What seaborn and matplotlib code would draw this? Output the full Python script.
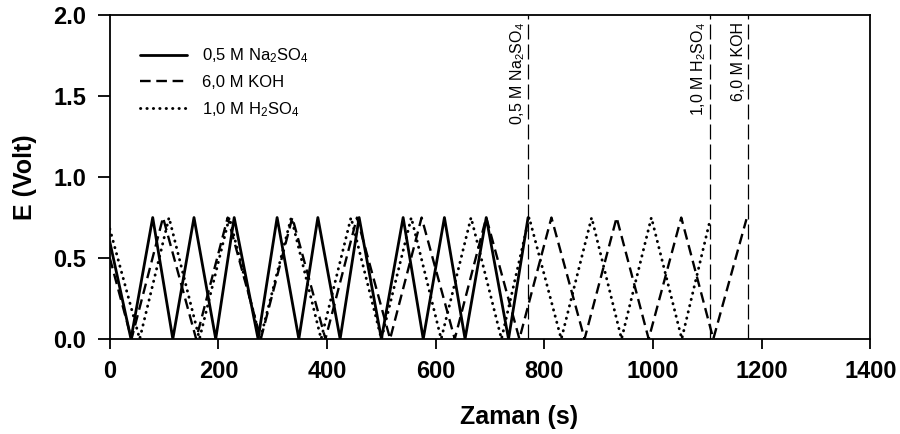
import numpy as np
import pandas as pd
import seaborn as sns
import matplotlib.pyplot as plt

# charge / discharge vertices (time in s, potential in V)
na2so4_t = [0, 39, 79, 116, 155, 195, 229, 273, 308, 348, 383,
            424, 459, 500, 540, 577, 616, 654, 693, 734, 770]
na2so4_e = [0.60, 0.0, 0.75, 0.0, 0.75, 0.0, 0.75, 0.0, 0.75, 0.0, 0.75,
            0.0, 0.75, 0.0, 0.75, 0.0, 0.75, 0.0, 0.75, 0.0, 0.75]

koh_t = [0, 40, 98, 159, 217, 278, 336, 397, 455, 516, 574,
         635, 693, 754, 813, 874, 933, 992, 1052, 1111, 1172]
koh_e = [0.50, 0.0, 0.75, 0.0, 0.75, 0.0, 0.75, 0.0, 0.75, 0.0, 0.75,
         0.0, 0.75, 0.0, 0.75, 0.0, 0.75, 0.0, 0.75, 0.0, 0.74]

h2so4_t = [0, 55, 109, 165, 220, 277, 334, 389, 444, 500, 555,
           610, 665, 721, 772, 831, 887, 942, 997, 1053, 1104]
h2so4_e = [0.68, 0.0, 0.75, 0.0, 0.75, 0.0, 0.75, 0.0, 0.75, 0.0, 0.75,
           0.0, 0.75, 0.0, 0.75, 0.0, 0.75, 0.0, 0.75, 0.0, 0.72]

series_labels = ['0,5 M Na$_2$SO$_4$', '6,0 M KOH', '1,0 M H$_2$SO$_4$']

# end of each measurement, marked with a vertical line
cut_t = [770, 1104, 1174]
cut_labels = ['0,5 M Na$_2$SO$_4$', '1,0 M H$_2$SO$_4$', '6,0 M KOH']

x_ticks = [0, 200, 400, 600, 800, 1000, 1200, 1400]
y_ticks = [0.0, 0.5, 1.0, 1.5, 2.0]

sns.set_style('ticks')
plt.rcParams['font.family'] = ['Liberation Sans', 'DejaVu Sans']
plt.rcParams['mathtext.fontset'] = 'custom'
plt.rcParams['mathtext.rm'] = 'Liberation Sans'
plt.rcParams['mathtext.default'] = 'regular'
for key in ['text.color', 'axes.labelcolor', 'xtick.color', 'ytick.color',
            'axes.edgecolor']:
    plt.rcParams[key] = 'black'

fig = plt.figure(figsize=(9, 4.34), dpi=100)
ax = fig.add_axes([0.122, 0.219, 0.845, 0.746])

sns.lineplot(x=na2so4_t, y=na2so4_e, ax=ax, color='black', lw=2.0,
             estimator=None, sort=False, label=series_labels[0])
sns.lineplot(x=koh_t, y=koh_e, ax=ax, color='black', lw=1.7,
             linestyle=(0, (4.5, 2.4)), estimator=None, sort=False,
             label=series_labels[1])
sns.lineplot(x=h2so4_t, y=h2so4_e, ax=ax, color='black', lw=2.1,
             linestyle=(0, (0.1, 2.1)), dash_capstyle='round',
             estimator=None, sort=False, label=series_labels[2])

for t, lab in zip(cut_t, cut_labels):
    ax.axvline(t, color='black', lw=0.9, linestyle=(0, (12, 4)))
    ax.text(t - 2, 1.96, lab, rotation=90, ha='right', va='top', fontsize=11.5)

ax.set_xlim(0, 1400)
ax.set_ylim(0, 2.0)
ax.set_xticks(x_ticks)
ax.set_yticks(y_ticks)
ax.set_yticklabels([f'{v:.1f}' for v in y_ticks])

ax.set_xlabel('Zaman (s)', fontsize=18, fontweight='bold')
ax.set_ylabel('E (Volt)', fontsize=18, fontweight='bold', labelpad=12)
ax.xaxis.set_label_coords(0.538, -0.205)

ax.tick_params(axis='both', direction='out', width=1.3, labelsize=17, pad=8)
ax.tick_params(axis='x', length=7)
ax.tick_params(axis='y', length=9)
for lbl in ax.get_xticklabels() + ax.get_yticklabels():
    lbl.set_fontweight('bold')
for sp in ax.spines.values():
    sp.set_linewidth(1.3)
    sp.set_color('black')

ax.legend(loc='upper left', bbox_to_anchor=(0.02, 0.95), frameon=False,
          handlelength=2.8, handletextpad=0.9, labelspacing=0.6, fontsize=12)

plt.savefig('out.png', dpi=100)
plt.close()
